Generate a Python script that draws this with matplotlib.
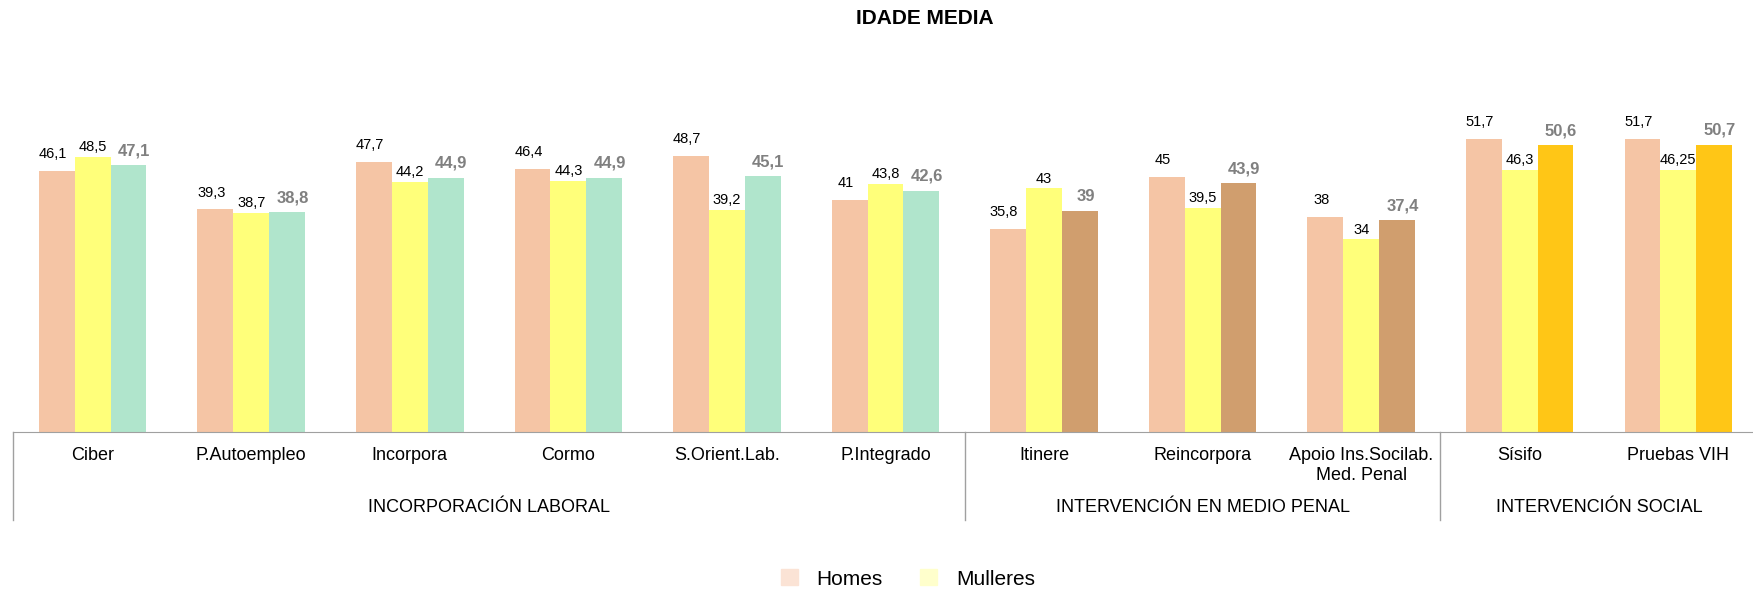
import matplotlib
matplotlib.use("Agg")
import matplotlib.pyplot as plt
from matplotlib.patches import Patch

plt.rcParams['font.family'] = ['Liberation Sans Narrow', 'Liberation Sans', 'DejaVu Sans']

categories = ["Ciber", "P.Autoempleo", "Incorpora", "Cormo", "S.Orient.Lab.", "P.Integrado",
              "Itinere", "Reincorpora", "Apoio Ins.Socilab.\nMed. Penal", "Sísifo", "Pruebas VIH"]
groups = ["INCORPORACIÓN LABORAL", "INTERVENCIÓN EN MEDIO PENAL", "INTERVENCIÓN SOCIAL"]
group_sizes = [6, 3, 2]

homes = [46.1, 39.3, 47.7, 46.4, 48.7, 41, 35.8, 45, 38, 51.7, 51.7]
mulleres = [48.5, 38.7, 44.2, 44.3, 39.2, 43.8, 43, 39.5, 34, 46.3, 46.25]
total = [47.1, 38.8, 44.9, 44.9, 45.1, 42.6, 39, 43.9, 37.4, 50.6, 50.7]

c_homes = "#F5C5A5"
c_mulleres = "#FFFF7A"
group_total_colors = ["#B0E5CC", "#D09E6E", "#FFC616"]

W, H = 1753, 590
fig = plt.figure(figsize=(W / 100, H / 100), dpi=100)
ax = fig.add_axes([13.4 / W, 1 - 432 / H, 11 * 158.56 / W, (432 - 92) / H])

x = list(range(len(categories)))
bw = 0.226
tot_colors = []
for g, n in enumerate(group_sizes):
    tot_colors += [group_total_colors[g]] * n

ax.bar([i - bw for i in x], homes, bw, color=c_homes)
ax.bar(x, mulleres, bw, color=c_mulleres)
ax.bar([i + bw for i in x], total, bw, color=tot_colors)

def fmt(v):
    return f"{v:g}".replace(".", ",")

for i in x:
    ax.annotate(fmt(homes[i]), (i - bw, homes[i]), xytext=(-3, 7), textcoords="offset points",
                ha="center", va="bottom", fontsize=10.5, color="black")
    ax.annotate(fmt(mulleres[i]), (i, mulleres[i]), xytext=(0, 2), textcoords="offset points",
                ha="center", va="bottom", fontsize=10.5, color="black")
    ax.annotate(fmt(total[i]), (i + bw, total[i]), xytext=(4, 5), textcoords="offset points",
                ha="center", va="bottom", fontsize=12, color="#808080", fontweight="bold")

ax.set_xlim(-0.5, len(categories) - 0.5)
ax.set_ylim(0, 60)
for s in ["top", "left", "right"]:
    ax.spines[s].set_visible(False)
ax.spines["bottom"].set_color("#A0A0A0")
ax.set_yticks([])
ax.set_xticks([])

trans = ax.get_xaxis_transform()
y_cat = -(455 - 432) / (432 - 92)
y_grp = -(508 - 432) / (432 - 92)
y_sep = -(520 - 432) / (432 - 92)
for i, c in enumerate(categories):
    ax.text(i, y_cat + 0.025, c, transform=trans, ha="center", va="top", fontsize=13,
            linespacing=1.3)

start = 0
for g, n in enumerate(group_sizes):
    ax.plot([start - 0.5, start - 0.5], [0, y_sep], transform=trans, color="#A0A0A0",
            lw=1, clip_on=False)
    ax.text(start - 0.5 + n / 2, y_grp, groups[g], transform=trans, ha="center", va="center",
            fontsize=13)
    start += n

fig.text(925 / W, 1 - 19 / H, "IDADE MEDIA", ha="center", va="center", fontsize=15,
         fontweight="bold", family=["Liberation Sans", "DejaVu Sans"])

handles = [Patch(color="#FBE3D5", label="Homes"), Patch(color="#FFFFCC", label="Mulleres")]
fig.legend(handles=handles, loc="center", bbox_to_anchor=(908 / W, 1 - 579 / H), ncol=2,
           frameon=False, fontsize=15, handlelength=0.8, handleheight=0.8,
           handletextpad=0.9, columnspacing=1.8)

fig.savefig("out.png", dpi=100)
